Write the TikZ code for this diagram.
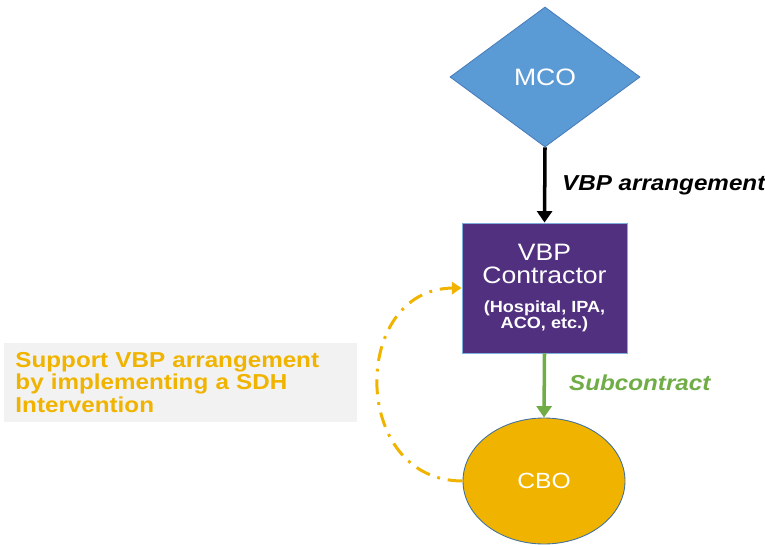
\documentclass[tikz,border=0pt]{standalone}
\usepackage{fontspec}
\setmainfont[FakeStretch=1.12]{Liberation Sans}
\usetikzlibrary{shapes.geometric,arrows.meta}
\begin{document}
\begin{tikzpicture}[x=1cm,y=1cm,
    flow/.style={line width=2pt,-{Triangle[width=8.5pt,length=6.5pt]}},
    flowlabel/.style={anchor=west,font=\bfseries\itshape\fontsize{12.3}{14}\selectfont},
    sdharc/.style={line width=1.7pt,color=sdhgold,dash pattern=on 8.5pt off 4.5pt on 1.6pt off 4.5pt,
      -{Triangle[width=7pt,length=5.5pt]}}]
  \definecolor{mcoblue}{HTML}{5B9BD5}
  \definecolor{mcoborder}{HTML}{4A7EBB}
  \definecolor{vbppurple}{HTML}{50307F}
  \definecolor{sdhgold}{HTML}{F0B400}
  \definecolor{cboborder}{HTML}{41719C}
  \definecolor{subgreen}{HTML}{70AD47}
  \definecolor{notefill}{HTML}{F2F2F2}
  \path[use as bounding box] (0,0) rectangle (15.30,10.88);
  \node[diamond,draw=mcoborder,fill=mcoblue,line width=0.5pt,inner sep=0pt,
    minimum width=3.8cm,minimum height=2.8cm,text=white,
    font=\fontsize{13.5}{15}\selectfont] (mco) at (10.90,9.34) {MCO};
  \node[rectangle,draw=mcoblue!80,fill=vbppurple,line width=0.5pt,
    minimum width=3.3cm,minimum height=2.6cm,text=white,align=center,
    font=\fontsize{13.5}{13}\selectfont] (contractor) at (10.89,5.12)
    {VBP\\Contractor\\[4pt]{\bfseries\fontsize{9.2}{9}\selectfont(Hospital, IPA,}\\[-4pt]
     {\bfseries\fontsize{9.2}{9}\selectfont ACO, etc.)}};
  \node[ellipse,draw=cboborder,fill=sdhgold,line width=0.5pt,inner sep=0pt,
    minimum width=3.24cm,minimum height=2.52cm,text=white,
    font=\fontsize{12.5}{14}\selectfont] (cbo) at (10.88,1.26) {CBO};
  \node[rectangle,fill=notefill,minimum width=7.06cm,minimum height=1.58cm,
    text width=6.6cm,align=left,text=sdhgold,
    font=\bfseries\fontsize{12.3}{13}\selectfont] (note) at (3.61,3.23)
    {Support VBP arrangement\\by implementing a SDH\\Intervention};
  \draw[flow,black] (mco.south) -- (contractor.north);
  \draw[flow,subgreen] (contractor.south) -- (cbo.north);
  \node[flowlabel] (arrlabel) at (11.12,7.18) {VBP arrangement};
  \node[flowlabel,text=subgreen] (sublabel) at (11.26,3.22) {Subcontract};
  \draw[sdharc] (cbo.west) .. controls (7.00,1.26) and (7.00,5.10) .. (contractor.west);
\end{tikzpicture}
\end{document}
